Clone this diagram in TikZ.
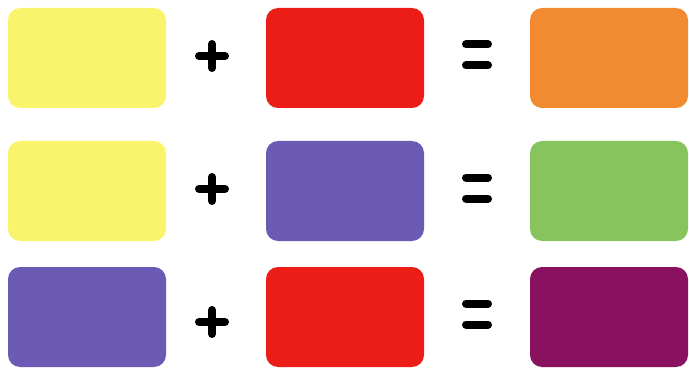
\documentclass[tikz,border=0pt]{standalone}
\usepackage{tikz}
\usepackage{xcolor}
\usetikzlibrary{positioning}
\definecolor{Paint_Yellow}{HTML}{F9F46C}
\definecolor{Paint_Red}{HTML}{EC1D16}
\definecolor{Paint_Orange}{HTML}{F28A32}
\definecolor{Paint_Violet}{HTML}{6C5BB5}
\definecolor{Paint_Green}{HTML}{88C45D}
\definecolor{Paint_Plum}{HTML}{8A1160}

\begin{document}
\begin{tikzpicture}[x=1pt, y=-1pt,
    swatch/.style={rounded corners=12pt, minimum width=158pt, minimum height=100pt, inner sep=0pt},
    sign/.style={line width=8pt, line cap=round, black}]
    \useasboundingbox (0,0) rectangle (689,369);

    % Row 1: yellow + red = orange
    \node[swatch, fill=Paint_Yellow] (y1) at (87,58) {};
    \node[swatch, fill=Paint_Red] (r1) at (345,58) {};
    \node[swatch, fill=Paint_Orange] (o1) at (609,58) {};

    % Row 2: yellow + violet = green
    \node[swatch, fill=Paint_Yellow] (y2) at (87,191) {};
    \node[swatch, fill=Paint_Violet] (v2) at (345,191) {};
    \node[swatch, fill=Paint_Green] (g2) at (609,191) {};

    % Row 3: violet + red = plum
    \node[swatch, fill=Paint_Violet] (v3) at (87,317) {};
    \node[swatch, fill=Paint_Red] (r3) at (345,317) {};
    \node[swatch, fill=Paint_Plum] (p3) at (609,317) {};

    % Plus and equals signs
    \foreach \row/\py/\ey in {1/56/55, 2/189/188, 3/322/314} {
        \coordinate (plus\row) at (212,\py);
        \coordinate (eq\row) at (477,\ey);
        \draw[sign] ([xshift=-13pt]plus\row) -- ([xshift=13pt]plus\row);
        \draw[sign] ([yshift=-12pt]plus\row) -- ([yshift=12pt]plus\row);
        \draw[sign] ([xshift=-11pt, yshift=-10.5pt]eq\row) -- ([xshift=11pt, yshift=-10.5pt]eq\row);
        \draw[sign] ([xshift=-11pt, yshift=10.5pt]eq\row) -- ([xshift=11pt, yshift=10.5pt]eq\row);
    }

\end{tikzpicture}
\end{document}
